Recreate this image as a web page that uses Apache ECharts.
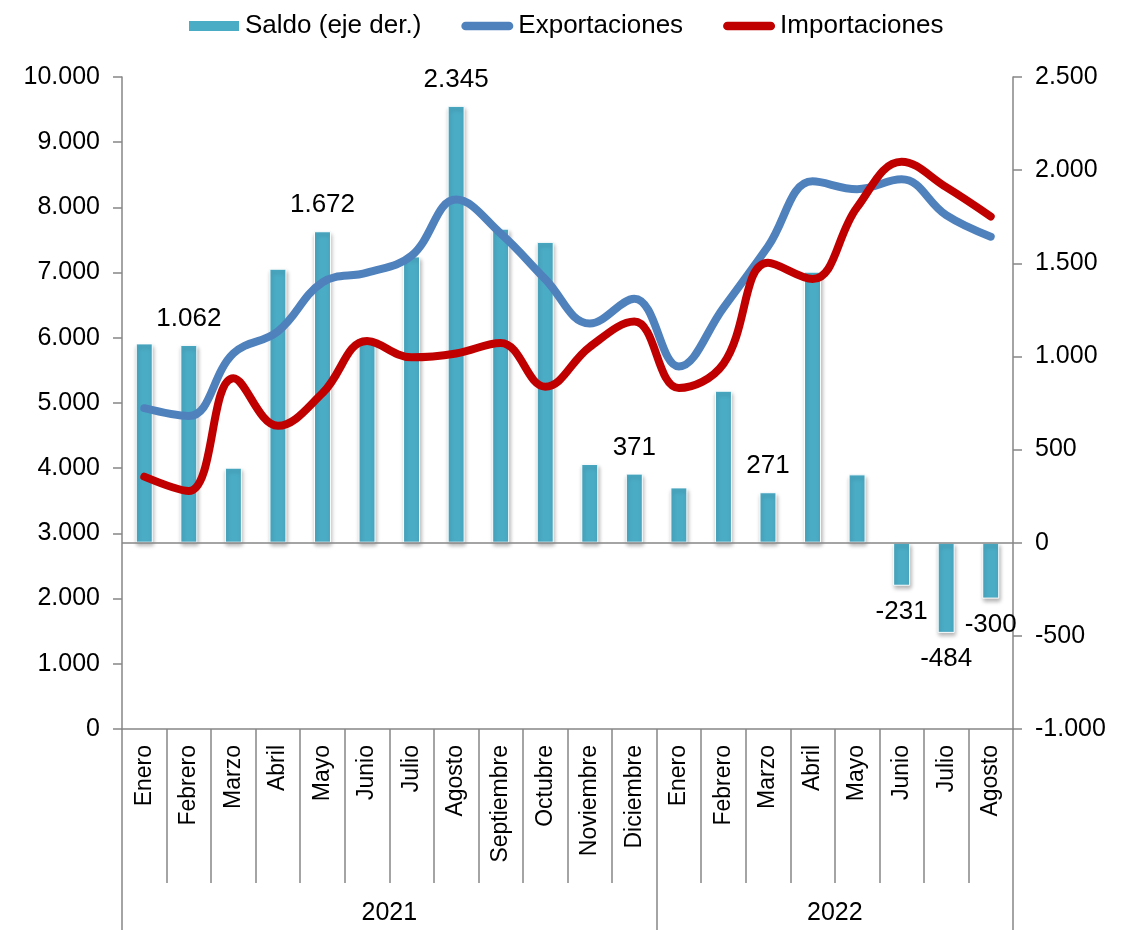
<!DOCTYPE html>
<html>
<head>
<meta charset="utf-8">
<script src="https://cdn.jsdelivr.net/npm/echarts@6/dist/echarts.min.js"></script>
<style>
  html, body { margin: 0; padding: 0; background: #fff; }
  #chart { width: 1124px; height: 930px; }
</style>
</head>
<body>
<div id="chart"></div>
<script>
// categorías
const months2021 = ['Enero', 'Febrero', 'Marzo', 'Abril', 'Mayo', 'Junio', 'Julio', 'Agosto', 'Septiembre', 'Octubre', 'Noviembre', 'Diciembre']
const months2022 = ['Enero', 'Febrero', 'Marzo', 'Abril', 'Mayo', 'Junio', 'Julio', 'Agosto']
const years = ['2021', '2022']

// saldo (eje derecho)
const saldo = [1070, 1062, 403, 1471, 1672, 1101, 1537, 2345, 1686, 1615, 423, 371, 297, 816, 271, 1455, 367, -231, -484, -300]
// exportaciones / importaciones (eje izquierdo)
const exportaciones = [4920, 4800, 5760, 6100, 6850, 7000, 7260, 8120, 7600, 6900, 6220, 6600, 5560, 6460, 7400, 8400, 8280, 8430, 7880, 7550]
const importaciones = [3870, 3650, 5380, 4650, 5150, 5950, 5700, 5760, 5920, 5250, 5860, 6250, 5230, 5600, 7150, 6900, 8000, 8700, 8310, 7860]
// índices con etiqueta de saldo
const labeled = [1, 4, 7, 11, 14, 17, 18, 19]

const months = months2021.concat(months2022)

const fmt = (v) => String(v).replace(/\B(?=(\d{3})+(?!\d))/g, '.')

// eje de años: medio paso por mes
const halfSteps = months.length * 2 + 1
const yearAxisData = new Array(halfSteps).fill('')
const yearBounds = [0]
let acc = 0
;[months2021.length, months2022.length].forEach((n, i) => {
  yearAxisData[(acc + n / 2) * 2] = years[i]
  acc += n
  yearBounds.push(acc * 2)
})

const grey = '#868686'
const font = 'Liberation Sans, Arial, sans-serif'
const pill = 'path://M5,0 L55,0 A5,5 0 0 1 55,10 L5,10 A5,5 0 0 1 5,0 Z'

const chart = echarts.init(document.getElementById('chart'))

const option = {
  animation: false,
  textStyle: { fontFamily: font },
  legend: {
    top: 8,
    left: 182,
    itemWidth: 52,
    itemHeight: 12,
    itemGap: 40,
    textStyle: { fontSize: 26, color: '#000', fontFamily: font },
    data: [
      { name: 'Saldo (eje der.)', icon: 'rect' },
      { name: 'Exportaciones', icon: pill },
      { name: 'Importaciones', icon: pill },
    ],
  },
  grid: {
    left: 122,
    right: 111,
    top: 77,
    bottom: 201,
  },
  xAxis: [
    {
      type: 'category',
      data: months,
      position: 'bottom',
      axisLine: { onZero: false, lineStyle: { color: grey, width: 1.5 } },
      axisTick: { show: true, interval: 0, length: 154, alignWithLabel: false, lineStyle: { color: grey, width: 1.5 } },
      axisLabel: { interval: 0, rotate: 90, margin: 16, fontSize: 23, color: '#000', fontFamily: font },
    },
    {
      type: 'category',
      data: yearAxisData,
      boundaryGap: false,
      position: 'bottom',
      offset: 154,
      axisLine: { show: false, onZero: false },
      axisTick: {
        show: true,
        length: 50,
        interval: (idx) => yearBounds.includes(idx),
        lineStyle: { color: grey, width: 1.5 },
      },
      axisLabel: { interval: 0, margin: 18, fontSize: 25, color: '#000', fontFamily: font },
    },
  ],
  yAxis: [
    {
      type: 'value',
      position: 'left',
      min: 0,
      max: 10000,
      interval: 1000,
      axisLine: { show: true, lineStyle: { color: grey, width: 1.5 } },
      axisTick: { show: true, length: 9, lineStyle: { color: grey, width: 1.5 } },
      splitLine: { show: false },
      axisLabel: { formatter: fmt, fontSize: 25, color: '#000', margin: 22, fontFamily: font },
    },
    {
      type: 'value',
      position: 'right',
      min: -1000,
      max: 2500,
      interval: 500,
      axisLine: { show: true, onZero: false, lineStyle: { color: grey, width: 1.5 } },
      axisTick: { show: true, length: 9, lineStyle: { color: grey, width: 1.5 } },
      splitLine: { show: false },
      axisLabel: { formatter: fmt, fontSize: 25, color: '#000', margin: 22, fontFamily: font },
    },
  ],
  series: [
    {
      name: 'Saldo (eje der.)',
      type: 'bar',
      xAxisIndex: 0,
      yAxisIndex: 1,
      barWidth: 17,
      itemStyle: {
        color: '#4BACC6',
        borderColor: '#fff',
        borderWidth: 1,
        shadowBlur: 4,
        shadowOffsetX: 1,
        shadowOffsetY: 3,
        shadowColor: 'rgba(0, 0, 0, 0.3)',
      },
      data: saldo.map((v, i) => ({
        value: v,
        label: {
          show: labeled.includes(i),
          position: v < 0 ? 'bottom' : 'top',
          distance: 13,
          formatter: (p) => fmt(p.value),
          fontSize: 26,
          color: '#000',
          fontFamily: font,
        },
      })),
      markLine: {
        silent: true,
        symbol: 'none',
        label: { show: false },
        lineStyle: { color: grey, width: 1.5, type: 'solid' },
        data: [{ yAxis: 0 }],
      },
    },
    {
      name: 'Exportaciones',
      type: 'line',
      xAxisIndex: 0,
      yAxisIndex: 0,
      smooth: 0.4,
      showSymbol: false,
      lineStyle: { color: '#4F81BD', width: 8, cap: 'round', join: 'round' },
      itemStyle: { color: '#4F81BD' },
      data: exportaciones,
    },
    {
      name: 'Importaciones',
      type: 'line',
      xAxisIndex: 0,
      yAxisIndex: 0,
      smooth: 0.4,
      showSymbol: false,
      lineStyle: { color: '#C00000', width: 8, cap: 'round', join: 'round' },
      itemStyle: { color: '#C00000' },
      data: importaciones,
    },
  ],
}

chart.setOption(option)
</script>
</body>
</html>
